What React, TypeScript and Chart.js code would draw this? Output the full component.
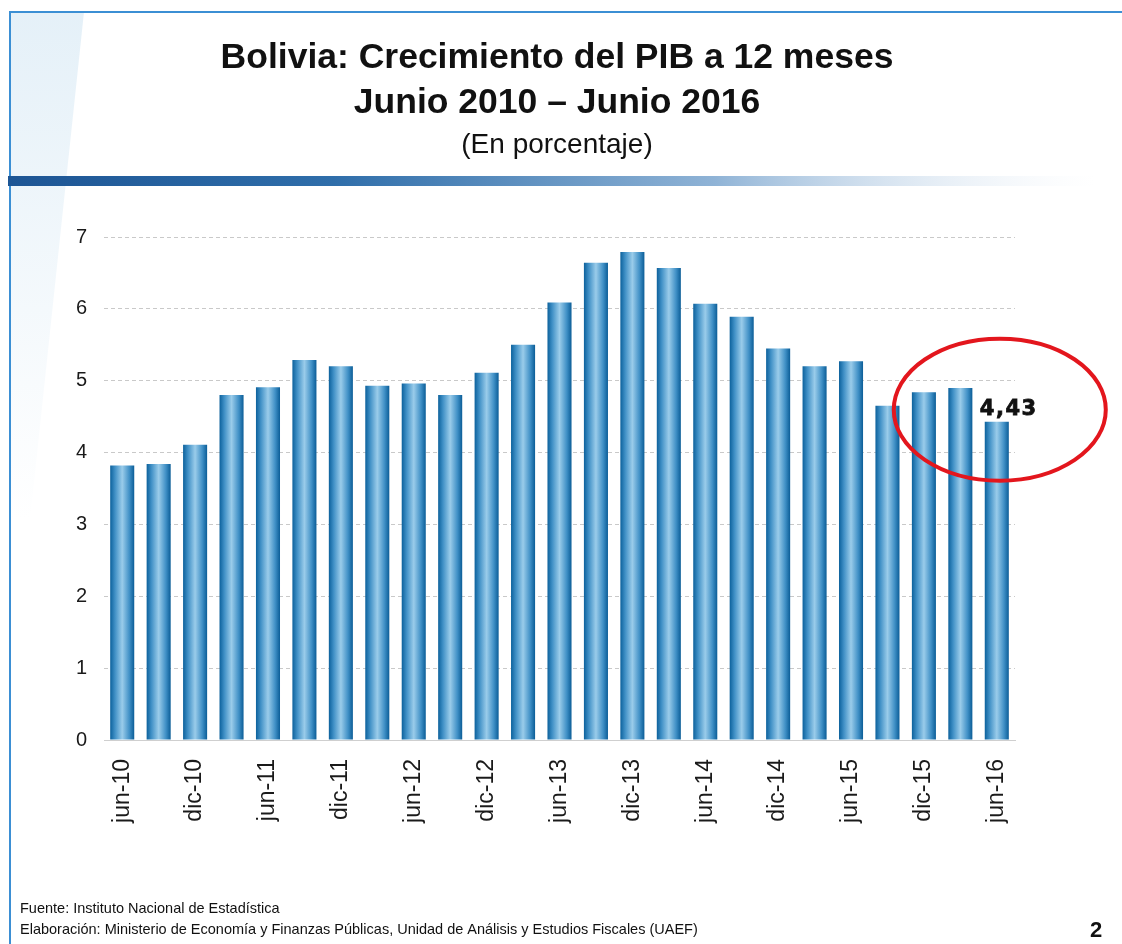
import React, { useEffect, useRef } from "react";
import { Chart, registerables } from "chart.js";

Chart.register(...registerables);

const periods = [
  "jun-10", "sep-10", "dic-10", "mar-11", "jun-11", "sep-11", "dic-11", "mar-12",
  "jun-12", "sep-12", "dic-12", "mar-13", "jun-13", "sep-13", "dic-13", "mar-14",
  "jun-14", "sep-14", "dic-14", "mar-15", "jun-15", "sep-15", "dic-15", "mar-16", "jun-16",
];
const growth = [
  3.82, 3.84, 4.11, 4.80, 4.91, 5.29, 5.20, 4.93,
  4.96, 4.80, 5.11, 5.50, 6.09, 6.64, 6.79, 6.57,
  6.07, 5.89, 5.45, 5.20, 5.27, 4.65, 4.84, 4.90, 4.43,
];
const yTicks = [0, 1, 2, 3, 4, 5, 6, 7];
const titleLines = ["Bolivia: Crecimiento del PIB a 12 meses", "Junio 2010 \u2013 Junio 2016"];
const subtitle = "(En porcentaje)";
const footerLines = [
  "Fuente: Instituto Nacional de Estad\u00edstica",
  "Elaboraci\u00f3n: Ministerio de Econom\u00eda y Finanzas P\u00fablicas, Unidad de An\u00e1lisis y Estudios Fiscales (UAEF)",
];
const pageNumber = "2";

const FONT = '"Liberation Sans", Arial, sans-serif';

export default function App() {
  const ref = useRef<HTMLCanvasElement | null>(null);

  useEffect(() => {
    document.body.style.margin = "0";
    const canvas = ref.current!;

    const decor = {
      id: "decor",
      beforeDraw(chart: any) {
        const ctx = chart.ctx as CanvasRenderingContext2D;
        const W = chart.width;
        const H = chart.height;
        ctx.save();
        ctx.fillStyle = "#ffffff";
        ctx.fillRect(0, 0, W, H);
        // faint diagonal band at left
        const band = ctx.createLinearGradient(0, 0, 0, 520);
        band.addColorStop(0, "rgba(210,230,243,0.6)");
        band.addColorStop(1, "rgba(210,230,243,0)");
        ctx.fillStyle = band;
        ctx.beginPath();
        ctx.moveTo(10, 12);
        ctx.lineTo(84, 12);
        ctx.lineTo(30, 520);
        ctx.lineTo(10, 520);
        ctx.closePath();
        ctx.fill();
        // slide border
        ctx.strokeStyle = "#3b8fd4";
        ctx.lineWidth = 2;
        ctx.beginPath();
        ctx.moveTo(W, 12);
        ctx.lineTo(10, 12);
        ctx.lineTo(10, H);
        ctx.stroke();
        // titles
        ctx.fillStyle = "#111111";
        ctx.textAlign = "center";
        ctx.textBaseline = "alphabetic";
        ctx.font = `bold 35.5px ${FONT}`;
        ctx.fillText(titleLines[0], 557, 68);
        ctx.fillText(titleLines[1], 557, 113);
        ctx.font = `28px ${FONT}`;
        ctx.fillText(subtitle, 557, 153);
        // gradient rule
        const g = ctx.createLinearGradient(8, 0, 1095, 0);
        g.addColorStop(0, "#1d5594");
        g.addColorStop(0.3, "#2f6eaa");
        g.addColorStop(0.65, "#8fb3d6");
        g.addColorStop(1, "rgba(230,238,246,0)");
        ctx.fillStyle = g;
        ctx.fillRect(8, 176, 1090, 10);
        // footer
        ctx.textAlign = "left";
        ctx.fillStyle = "#111111";
        ctx.font = `14.5px ${FONT}`;
        ctx.fillText(footerLines[0], 20, 913);
        ctx.fillText(footerLines[1], 20, 934);
        ctx.font = `bold 22px ${FONT}`;
        ctx.fillText(pageNumber, 1090, 937);
        ctx.restore();
      },
      beforeDatasetsDraw(chart: any) {
        const ctx = chart.ctx as CanvasRenderingContext2D;
        const meta = chart.getDatasetMeta(0);
        meta.data.forEach((bar: any) => {
          const left = bar.x - bar.width / 2;
          const right = bar.x + bar.width / 2;
          const g = ctx.createLinearGradient(left, 0, right, 0);
          g.addColorStop(0, "#0c619c");
          g.addColorStop(0.2, "#4090c6");
          g.addColorStop(0.5, "#9accea");
          g.addColorStop(0.8, "#4090c6");
          g.addColorStop(1, "#0b5d97");
          bar.options = Object.assign({}, bar.options, { backgroundColor: g });
        });
      },
      afterDatasetsDraw(chart: any) {
        const ctx = chart.ctx as CanvasRenderingContext2D;
        const meta = chart.getDatasetMeta(0);
        const last = meta.data[meta.data.length - 1];
        const value = growth[growth.length - 1];
        ctx.save();
        ctx.font = `bold 21px "DejaVu Sans", sans-serif`;
        (ctx as any).letterSpacing = "1.5px";
        ctx.fillStyle = "#111111";
        ctx.strokeStyle = "#111111";
        ctx.lineWidth = 0.8;
        ctx.textAlign = "center";
        ctx.textBaseline = "alphabetic";
        const txt = value.toFixed(2).replace(".", ",");
        ctx.fillText(txt, last.x + 12, last.y - 7);
        ctx.strokeText(txt, last.x + 12, last.y - 7);
        (ctx as any).letterSpacing = "0px";
        ctx.strokeStyle = "#e3161d";
        ctx.lineWidth = 4;
        ctx.beginPath();
        ctx.ellipse(last.x + 3, last.y - 12, 106, 71, 0, 0, Math.PI * 2);
        ctx.stroke();
        ctx.restore();
      },
    };

    const chart = new Chart(canvas, {
      type: "bar",
      data: {
        labels: periods,
        datasets: [
          {
            data: growth,
            backgroundColor: "#3b8cc4",
            borderWidth: 0,
            categoryPercentage: 1,
            barPercentage: 0.66,
          },
        ],
      },
      options: {
        responsive: false,
        animation: false,
        devicePixelRatio: 1,
        layout: { padding: { top: 237, right: 107, bottom: 0, left: 0 } },
        plugins: { legend: { display: false }, tooltip: { enabled: false } },
        scales: {
          x: {
            grid: { display: false, drawTicks: false },
            border: { display: true, color: "#cfcfcf", width: 1 },
            ticks: {
              autoSkip: false,
              maxRotation: 90,
              minRotation: 90,
              padding: 19,
              color: "#1a1a1a",
              font: { family: FONT, size: 23 },
              callback: (_v: any, i: number) => (i % 2 === 0 ? periods[i] : ""),
            },
            afterFit: (s: any) => {
              s.height = 204;
            },
          },
          y: {
            min: yTicks[0],
            max: yTicks[yTicks.length - 1],
            afterBuildTicks: (s: any) => {
              s.ticks = yTicks.map((v) => ({ value: v }));
            },
            grid: { color: "#c9c9c9", drawTicks: false, lineWidth: 1 },
            border: { display: false, dash: [4, 3] },
            ticks: {
              padding: 17,
              color: "#1a1a1a",
              font: { family: FONT, size: 20 },
            },
            afterFit: (s: any) => {
              s.width = 104;
            },
          },
        },
      },
      plugins: [decor],
    });

    return () => chart.destroy();
  }, []);

  return <canvas ref={ref} width={1122} height={944} style={{ display: "block" }} />;
}
